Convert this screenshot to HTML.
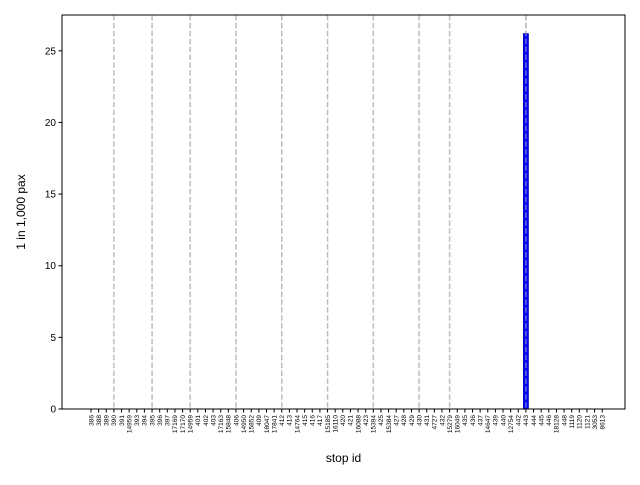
<!DOCTYPE html>
<html><head><meta charset="utf-8"><style>
body{margin:0;background:#fff;font-family:"Liberation Sans","DejaVu Sans",sans-serif}
</style></head><body>
<svg id="chart" width="640" height="480" xmlns="http://www.w3.org/2000/svg"></svg>
<script>
const categories=["386","388","389","390","391","14959","393","394","395","396","397","17169","17170","14959","401","402","403","17163","15848","406","14950","15852","409","18047","17841","412","413","14764","415","416","417","15185","16110","420","421","16088","423","15394","425","15384","427","428","429","430","431","4727","432","15279","16049","435","436","437","14647","439","440","12754","442","443","444","445","446","18128","448","1119","1120","1121","3053","8613"];
const values=categories.map(c=>c==="443"?26.2:0);
const dashedCats=[3,8,13,19,25,31,37,43,47,57];
const yTicks=[0,5,10,15,20,25];
const L=62,R=625,T=15,B=409,yMax=27.5;
const ns="http://www.w3.org/2000/svg",svg=document.getElementById('chart');
const x0=91,step=7.63;
const xs=i=>x0+i*step, ys=v=>B-(B-T)*v/yMax;
function mk(t,a,p){const e=document.createElementNS(ns,t);for(const k in a)e.setAttribute(k,a[k]);(p||svg).appendChild(e);return e;}
dashedCats.forEach(i=>{const l=mk('line',{x1:xs(i),x2:xs(i),y1:T,y2:B,stroke:'#bdbdbd','stroke-width':1.5,'stroke-dasharray':'5.5,2.4'});

});
values.forEach((v,i)=>{if(v<=0)return;const r=mk('rect',{x:xs(i)-2.5,y:ys(v),width:5,height:B-ys(v),fill:'#0000ff',stroke:'#0000aa','stroke-width':0.8});


mk('line',{x1:xs(i),x2:xs(i),y1:T,y2:B,stroke:'#b0b0b0','stroke-width':1.5,'stroke-dasharray':'5.5,2.4','stroke-opacity':0.6});});
const ax=mk('rect',{x:L,y:T,width:R-L,height:B-T,fill:'none',stroke:'#000','stroke-width':1});

yTicks.forEach(t=>{const y=ys(t);mk('line',{x1:L-3.5,x2:L,y1:y,y2:y,stroke:'#000'});
const tx=mk('text',{x:L-6,y:y+3.5,'text-anchor':'end','font-size':10});tx.textContent=t;

});
categories.forEach((c,i)=>{const x=xs(i);mk('line',{x1:x,x2:x,y1:B,y2:B+3.5,stroke:'#000'});
const tx=mk('text',{x:0,y:0,'text-anchor':'end','font-size':6.5,transform:`translate(${x+2.3},${B+6}) rotate(-90)`});tx.textContent=c;

});
const xt=mk('text',{x:(L+R)/2,y:462,'text-anchor':'middle','font-size':12});xt.textContent='stop id';

const yt=mk('text',{x:0,y:0,'text-anchor':'middle','font-size':12,transform:`translate(25,${(T+B)/2}) rotate(-90)`});yt.textContent='1 in 1,000 pax';

</script>
</body></html>
